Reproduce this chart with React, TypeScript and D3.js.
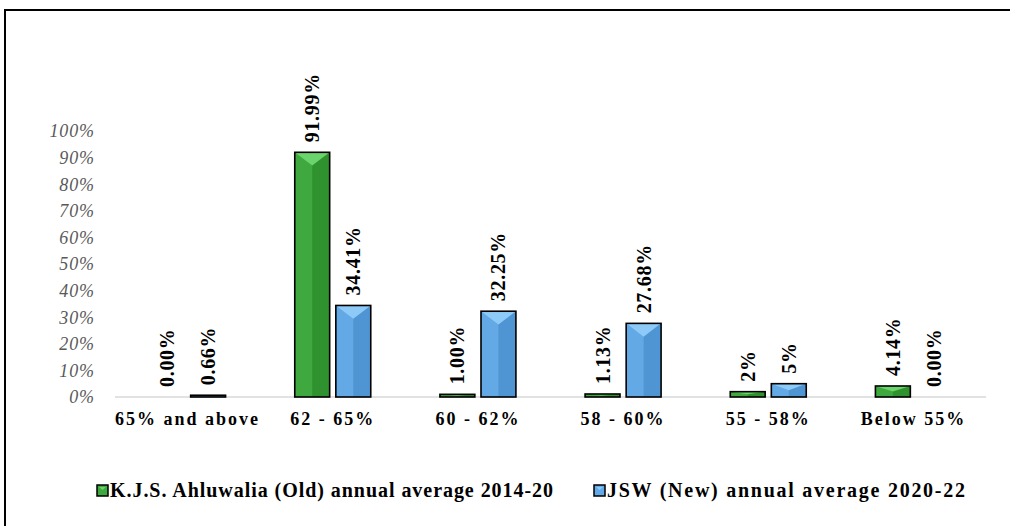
import React from "react";
import * as d3 from "d3";

const categories = ["65% and above", "62 - 65%", "60 - 62%", "58 - 60%", "55 - 58%", "Below 55%"];
const seriesNames = ["K.J.S. Ahluwalia (Old) annual average 2014-20", "JSW (New) annual average 2020-22"];
const oldValues = [0.0, 91.99, 1.0, 1.13, 2, 4.14];
const newValues = [0.66, 34.41, 32.25, 27.68, 5, 0.0];
const oldLabels = ["0.00%", "91.99%", "1.00%", "1.13%", "2%", "4.14%"];
const newLabels = ["0.66%", "34.41%", "32.25%", "27.68%", "5%", "0.00%"];
const yTicks = [0, 10, 20, 30, 40, 50, 60, 70, 80, 90, 100];

const W = 1010;
const H = 526;

const palettes = [
  { left: "#3fa83f", right: "#2f922f", top: "#6cd46c" },
  { left: "#62a9e6", right: "#4f95d3", top: "#8dcaf7" },
];

const legendX = [97, 594];
const legendWidths = [443, 358];

function Bar({ x, y, w, h, pal }: { x: number; y: number; w: number; h: number; pal: any }) {
  if (h <= 0.3) return null;
  const d = Math.min(w * 0.38, h / 2);
  const cx = x + w / 2;
  return (
    <g>
      <rect x={x} y={y} width={w} height={h} fill={pal.right} />
      <rect x={x} y={y} width={w / 2} height={h} fill={pal.left} />
      <polygon points={`${x},${y} ${x + w},${y} ${cx},${y + d}`} fill={pal.top} />
      <rect x={x} y={y} width={w} height={h} fill="none" stroke="#000" strokeWidth={1.6} />
    </g>
  );
}

export default function App() {
  const x0 = d3.scaleBand<string>().domain(categories).range([115, 986]).padding(0);
  const x1 = d3.scaleBand<string>().domain(seriesNames).range([-38, 38]).paddingInner(0.15);
  const y = d3.scaleLinear().domain([0, 100]).range([397, 131]);
  const series = [oldValues, newValues];
  const labels = [oldLabels, newLabels];

  return (
    <svg width={W} height={H} style={{ position: "absolute", left: 0, top: 0, background: "#fff" }}>
      <rect x={5} y={10} width={1100} height={700} fill="#fff" stroke="#000" strokeWidth={2} />
      {yTicks.map((t) => (
        <text
          key={t}
          x={95}
          y={y(t)}
          dy="0.35em"
          textAnchor="end"
          fontFamily="Liberation Serif"
          fontStyle="italic"
          fontSize={18}
          letterSpacing={0.9}
          fill="#595959"
        >
          {t}%
        </text>
      ))}
      <line x1={115} x2={986} y1={y(0)} y2={y(0)} stroke="#d9d9d9" strokeWidth={1.5} />
      {categories.map((c, i) => {
        const cx = (x0(c) as number) + x0.bandwidth() / 2;
        return (
          <g key={c}>
            {seriesNames.map((s, si) => {
              const v = series[si][i];
              const bx = cx + (x1(s) as number);
              const bw = x1.bandwidth();
              const top = y(v);
              return (
                <g key={s}>
                  <Bar x={bx} y={top} w={bw} h={y(0) - top} pal={palettes[si]} />
                  <text
                    transform={`translate(${bx + bw / 2 + 7},${top - 10}) rotate(-90)`}
                    fontFamily="Liberation Serif"
                    fontWeight="bold"
                    fontSize={20}
                    letterSpacing={0.7}
                    fill="#000"
                  >
                    {labels[si][i]}
                  </text>
                </g>
              );
            })}
            <text
              x={cx}
              y={425}
              textAnchor="middle"
              fontFamily="Liberation Serif"
              fontWeight="bold"
              fontSize={18}
              letterSpacing={2}
              fill="#000"
            >
              {c}
            </text>
          </g>
        );
      })}
      {seriesNames.map((s, si) => {
        const lx = legendX[si];
        return (
          <g key={s}>
            <rect x={lx} y={485} width={11} height={11} fill={palettes[si].left} stroke="#000" strokeWidth={1.5} />
            <polygon points={`${lx + 2},${487} ${lx + 9},${487} ${lx + 5.5},${490}`} fill={palettes[si].top} />
            <text
              x={lx + 13}
              y={497}
              fontFamily="Liberation Serif"
              fontWeight="bold"
              fontSize={20}
              textLength={legendWidths[si]}
              lengthAdjust="spacing"
              fill="#000"
            >
              {s}
            </text>
          </g>
        );
      })}
    </svg>
  );
}
